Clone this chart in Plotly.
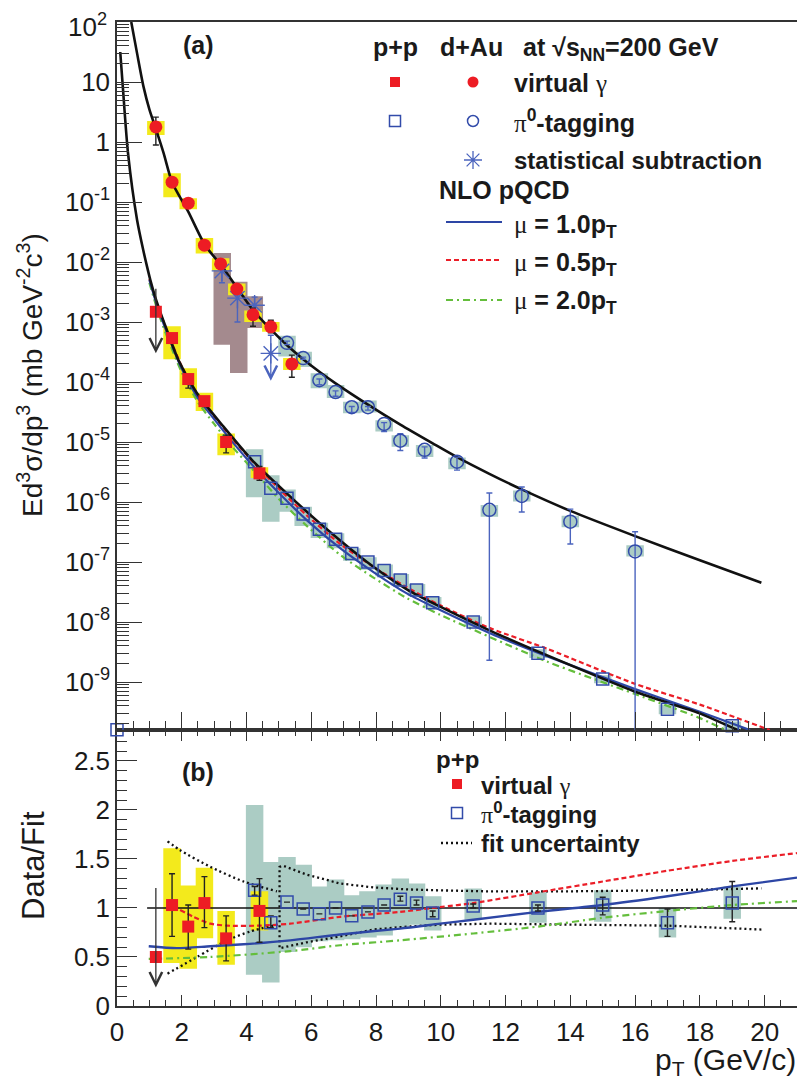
import numpy as np
import plotly.graph_objects as go

# ================= DATA =================
# ---- panel (a): invariant yields ----
# d+Au virtual photon (filled circles, yellow sys boxes)
dau_vg_x = [1.2, 1.7, 2.2, 2.7, 3.2, 3.7, 4.2, 4.75, 5.4]
dau_vg_y = [1.78, 0.214, 0.0955, 0.0191, 0.0093, 0.00355, 0.00132, 0.00083, 0.0002]
dau_vg_err_hi = [2.6, 0.24, 0.1, 0.02, 0.0098, 0.0037, 0.0017, 0.00107, 0.00028]
dau_vg_err_lo = [0.89, 0.19, 0.091, 0.018, 0.0088, 0.0034, 0.00085, 0.00066, 0.00012]
dau_vg_sys_hi = [2.24, 0.3, 0.115, 0.025, 0.0115, 0.0044, 0.00155, 0.001, 0.00025]
dau_vg_sys_lo = [1.31, 0.12, 0.076, 0.0138, 0.0072, 0.0028, 0.001, 0.00069, 0.000158]

# d+Au statistical subtraction (asterisks, brown sys boxes)
dau_ss_x = [3.24, 3.72, 4.25]
dau_ss_y = [0.0071, 0.0025, 0.0019]
dau_ss_err_hi = [0.0095, 0.0028, 0.0026]
dau_ss_err_lo = [0.0045, 0.001, 0.00123]
dau_ss_limit_x = [4.75]
dau_ss_limit_y = [0.0003]
dau_ss_limit_top = [0.0006]
dau_ss_limit_tip = [0.000105]
dau_ss_sys_x = [3.25, 3.76, 4.24]
dau_ss_sys_hi = [0.0141, 0.00468, 0.00269]
dau_ss_sys_lo = [0.000417, 0.000141, 0.000794]

# d+Au pi0-tagging (open circles, teal sys boxes)
dau_pi0_x = [5.25, 5.75, 6.25, 6.75, 7.25, 7.75, 8.25, 8.75, 9.5, 10.5, 11.5, 12.5, 14.0, 16.0]
dau_pi0_y = [4.5e-4, 2.5e-4, 1.07e-4, 6.8e-5, 3.8e-5, 3.8e-5, 2.0e-5, 1.05e-5, 7.4e-6, 4.7e-6,
             7.4e-7, 1.26e-6, 4.7e-7, 1.5e-7]
dau_pi0_err_hi = [4.8e-4, 2.6e-4, 1.12e-4, 7.1e-5, 3.9e-5, 3.9e-5, 2.1e-5, 1.38e-5, 8.3e-6, 5.6e-6,
                  1.41e-6, 1.78e-6, 7.6e-7, 3.2e-7]
dau_pi0_err_lo = [4.2e-4, 2.4e-4, 0.9e-4, 5.8e-5, 3.1e-5, 3.4e-5, 1.5e-5, 7.2e-6, 5.4e-6, 3.4e-6,
                  2.3e-9, 6.8e-7, 2.0e-7, 1e-12]
dau_pi0_sys_hi = [5.9e-4, 3.2e-4, 1.4e-4, 8.9e-5, 4.7e-5, 4.9e-5, 2.3e-5, 1.3e-5, 8.9e-6, 5.5e-6,
                  8.9e-7, 1.55e-6, 5.9e-7, 1.9e-7]
dau_pi0_sys_lo = [2.65e-4, 1.78e-4, 7.9e-5, 5.4e-5, 3.0e-5, 3.1e-5, 1.5e-5, 8.3e-6, 5.6e-6, 3.5e-6,
                  5.7e-7, 1.02e-6, 3.8e-7, 1.23e-7]

# p+p virtual photon (filled squares, yellow sys boxes)
pp_vg_x = [1.7, 2.2, 2.7, 3.37, 4.4]
pp_vg_y = [5.4e-4, 1.12e-4, 4.8e-5, 1.0e-5, 3.0e-6]
pp_vg_err_hi = [6.3e-4, 1.3e-4, 5.7e-5, 1.3e-5, 3.9e-6]
pp_vg_err_lo = [4.6e-4, 7.9e-5, 3.9e-5, 6.6e-6, 2.3e-6]
pp_vg_sys_hi = [8.5e-4, 1.7e-4, 6.6e-5, 1.38e-5, 3.8e-6]
pp_vg_sys_lo = [2.4e-4, 5.4e-5, 3.3e-5, 6.0e-6, 2.5e-6]
pp_vg_limit_x = [1.2]
pp_vg_limit_y = [1.48e-3]
pp_vg_limit_top = [3.8e-3]
pp_vg_limit_tip = [3.0e-4]

# p+p pi0-tagging (open squares, teal sys boxes)
pp_pi0_x = [4.25, 4.75, 5.25, 5.75, 6.25, 6.75, 7.25, 7.75, 8.25, 8.75, 9.25, 9.75, 11.0, 13.0, 15.0, 17.0, 19.0]
pp_pi0_y = [4.7e-6, 1.7e-6, 1.15e-6, 6.3e-7, 3.5e-7, 2.4e-7, 1.38e-7, 1.0e-7, 7.2e-8, 5.0e-8, 3.4e-8,
            2.1e-8, 1.0e-8, 3.0e-9, 1.12e-9, 3.5e-10, 1.86e-10]
pp_pi0_sys_hi = [7.6e-6, 2.8e-6, 1.62e-6, 8.3e-7, 4.5e-7, 3.0e-7, 1.7e-7, 1.2e-7, 9.1e-8, 6.3e-8, 4.3e-8,
                 2.6e-8, 1.23e-8, 3.5e-9, 1.3e-9, 4.2e-10, 2.2e-10]
pp_pi0_sys_lo = [1.2e-6, 4.7e-7, 6.9e-7, 4.0e-7, 2.5e-7, 1.7e-7, 1.05e-7, 7.4e-8, 5.8e-8, 4.0e-8, 2.7e-8,
                 1.7e-8, 8.3e-9, 2.5e-9, 9.5e-10, 2.9e-10, 1.6e-10]
pp_pi0_edge_x = [0.0]
pp_pi0_edge_y = [1.6e-10]

# fit curves
dau_fit_x = [0.44, 0.62, 0.82, 1.0, 1.18, 1.44, 1.7, 2.2, 2.72, 3.24, 3.71, 4.2, 4.72, 5.25, 5.75, 6.25,
             6.75, 7.75, 8.75, 9.75, 10.5, 11.5, 12.5, 14.0, 16.0, 18.0, 19.9]
dau_fit_y = [100, 30, 8.3, 3.5, 1.78, 0.65, 0.214, 0.069, 0.019, 0.0085, 0.0037, 0.00158, 7.8e-4, 4.1e-4,
             2.4e-4, 1.48e-4, 9.5e-5, 4.2e-5, 1.95e-5, 9.5e-6, 5.6e-6, 2.95e-6, 1.62e-6, 7.1e-7, 2.7e-7,
             1.07e-7, 4.5e-8]
pp_fit_x = [0.1, 0.18, 0.34, 0.62, 0.81, 0.93, 1.03, 1.18, 1.34, 1.49, 1.9, 2.47, 3.29, 4.17, 5.25, 6.48,
            7.72, 8.95, 9.98, 11.52, 13.27, 16.0, 18.0, 19.03, 19.3]
pp_fit_y = [31.6, 8.3, 0.65, 0.05, 0.0158, 0.0083, 0.005, 0.0026, 0.00145, 8.7e-4, 2.3e-4, 6.5e-5, 1.8e-5,
            5.0e-6, 1.38e-6, 3.5e-7, 1.0e-7, 3.5e-8, 1.8e-8, 7.2e-9, 2.8e-9, 6.9e-10, 3.0e-10, 1.7e-10,
            1.5e-10]

# NLO pQCD curves
nlo_mu10_x = [1.0, 1.25, 1.5, 2.0, 2.5, 3.0, 3.6, 4.3, 5.0, 5.86, 6.89, 7.92, 8.95, 9.98, 11.52, 13.27,
              16.0, 18.0, 19.55]
nlo_mu10_y = [5.0e-3, 1.78e-3, 7.6e-4, 1.66e-4, 5.4e-5, 2.4e-5, 9.5e-6, 3.5e-6, 1.41e-6, 5.0e-7, 1.7e-7,
              6.8e-8, 3.0e-8, 1.58e-8, 6.5e-9, 2.7e-9, 7.6e-10, 3.2e-10, 1.58e-10]
nlo_mu05_x = [1.0, 1.25, 1.5, 2.0, 2.5, 3.0, 3.6, 4.3, 5.0, 5.86, 6.89, 7.92, 8.95, 9.98, 11.52, 13.27,
              16.0, 18.0, 20.16]
nlo_mu05_y = [5.2e-3, 1.9e-3, 8.3e-4, 1.82e-4, 6.0e-5, 2.7e-5, 1.07e-5, 4.1e-6, 1.66e-6, 6.0e-7, 2.0e-7,
              8.3e-8, 3.8e-8, 1.9e-8, 7.9e-9, 3.6e-9, 9.3e-10, 4.2e-10, 1.58e-10]
nlo_mu20_x = [1.0, 1.25, 1.5, 2.0, 2.5, 3.0, 3.6, 4.3, 5.0, 5.86, 6.89, 7.92, 8.95, 9.98, 11.52, 13.27,
              16.0, 18.0, 18.8]
nlo_mu20_y = [4.5e-3, 1.58e-3, 6.6e-4, 1.45e-4, 4.6e-5, 2.0e-5, 7.9e-6, 3.0e-6, 1.12e-6, 4.0e-7, 1.32e-7,
              5.5e-8, 2.5e-8, 1.32e-8, 5.6e-9, 2.2e-9, 6.3e-10, 2.5e-10, 1.58e-10]

# ---- panel (b): Data/Fit ----
ratio_vg_x = [1.7, 2.2, 2.7, 3.37, 4.4]
ratio_vg_y = [1.03, 0.81, 1.05, 0.69, 0.97]
ratio_vg_err_hi = [1.35, 1.03, 1.32, 0.92, 1.3]
ratio_vg_err_lo = [0.71, 0.58, 0.8, 0.46, 0.65]
ratio_vg_sys_hi = [1.61, 1.23, 1.41, 0.97, 1.17]
ratio_vg_sys_lo = [0.44, 0.38, 0.69, 0.42, 0.77]
ratio_vg_limit_x = [1.2]
ratio_vg_limit_y = [0.5]
ratio_vg_limit_top = [1.22]
ratio_vg_limit_tip = [0.19]

ratio_pi0_x = [4.25, 4.75, 5.25, 5.75, 6.25, 6.75, 7.25, 7.75, 8.25, 8.75, 9.25, 9.75, 11.0, 13.0, 15.0, 17.0, 19.0]
ratio_pi0_y = [1.18, 0.85, 1.06, 0.99, 0.94, 1.0, 0.92, 0.96, 1.03, 1.09, 1.05, 0.95, 1.02, 1.0, 1.03, 0.85, 1.05]
ratio_pi0_err_hi = [1.22, 0.92, None, None, None, None, None, None, None, 1.12, 1.08, 0.97, 1.04, 1.03, 1.11, 0.99, 1.27]
ratio_pi0_err_lo = [1.13, 0.80, None, None, None, None, None, None, None, 1.07, 1.03, 0.91, 1.0, 0.97, 0.93, 0.71, 0.86]
ratio_pi0_sys_hi = [2.05, 1.47, 1.52, 1.44, 1.22, 1.29, 1.13, 1.17, 1.24, 1.30, 1.25, 1.12, 1.2, 1.16, 1.18, 1.0, 1.22]
ratio_pi0_sys_lo = [0.32, 0.24, 0.55, 0.6, 0.66, 0.67, 0.68, 0.7, 0.72, 0.80, 0.83, 0.77, 0.88, 0.85, 0.86, 0.70, 0.89]

ratio_mu10_x = [0.98, 1.85, 2.88, 3.91, 5.35, 6.89, 8.74, 9.98, 11.0, 13.0, 15.0, 17.0, 19.0, 21.0]
ratio_mu10_y = [0.61, 0.59, 0.61, 0.63, 0.67, 0.73, 0.79, 0.84, 0.88, 0.96, 1.03, 1.12, 1.22, 1.31]
ratio_mu05_x = [1.95, 2.36, 2.88, 3.4, 4.42, 5.35, 6.89, 8.74, 9.98, 11.0, 13.0, 15.0, 17.0, 19.0, 21.0]
ratio_mu05_y = [0.98, 0.91, 0.84, 0.82, 0.82, 0.84, 0.91, 0.96, 1.01, 1.05, 1.16, 1.27, 1.38, 1.48, 1.56]
ratio_mu20_x = [0.98, 2.88, 5.35, 6.89, 8.74, 11.0, 13.0, 15.0, 17.0, 19.0, 21.0]
ratio_mu20_y = [0.48, 0.5, 0.56, 0.62, 0.67, 0.74, 0.81, 0.9, 0.97, 1.03, 1.07]

fitunc_vg_up_x = [1.56, 1.95, 2.88, 3.91, 4.94]
fitunc_vg_up_y = [1.68, 1.59, 1.42, 1.27, 1.17]
fitunc_vg_lo_x = [1.56, 2.47, 3.4, 4.11, 4.94]
fitunc_vg_lo_y = [0.33, 0.5, 0.67, 0.76, 0.83]
fitunc_pi0_up_x = [5.02, 5.14, 5.86, 6.89, 7.92, 8.95, 9.98, 11.4, 14.0, 17.0, 19.9]
fitunc_pi0_up_y = [1.42, 1.43, 1.34, 1.25, 1.21, 1.19, 1.18, 1.17, 1.17, 1.18, 1.2]
fitunc_pi0_lo_x = [5.02, 5.86, 6.89, 7.92, 8.95, 9.98, 11.52, 14.0, 17.0, 19.9]
fitunc_pi0_lo_y = [0.59, 0.65, 0.71, 0.78, 0.81, 0.83, 0.84, 0.83, 0.82, 0.78]

unity_x = [0.93, 21.0]
unity_y = [1.0, 1.0]

x_ticks = [0, 2, 4, 6, 8, 10, 12, 14, 16, 18, 20]
y_top_exps = list(range(-9, 3))
# the top label (10^2) is drawn as a separate text so it is not cut at the page edge
y_top_ticktext = ["10<sup>%d</sup>" % e if e not in (0, 1, 2) else {0: "1", 1: "10", 2: ""}[e] for e in y_top_exps]
y_top_label_top = "10<sup>2</sup>"
y_bot_ticks = [0, 0.5, 1, 1.5, 2, 2.5]
y_bot_ticktext = ["0", "0.5", "1", "1.5", "2", "2.5"]

# ================= STYLE =================
RED = "rgb(237,28,36)"
BLUE = "rgb(50,75,170)"
BLUE2 = "rgb(75,100,190)"
YELLOW = "rgb(243,234,28)"
TEAL = "rgb(171,204,196)"
BROWN = "rgb(164,138,142)"
DARK = "#222222"
NLO_BLUE = "rgb(45,70,165)"
NLO_RED = "rgb(235,30,40)"
NLO_GREEN = "rgb(100,190,60)"
FONT = "Liberation Sans, Arial, Helvetica, sans-serif"
SERIF = "Liberation Serif,DejaVu Serif,serif"

# page geometry (the html body adds an 8px offset, so the figure is 8px smaller)
BODY = 8
PAGE_W, PAGE_H = 805, 1081
X0, X1, Y0, Y1 = 117, 797, 22, 1006         # plot area in page pixels
W, H = PAGE_W - BODY, PAGE_H - BODY
ML, MT = X0 - BODY, Y0 - BODY
MR, MB = W - (X1 - BODY), H - (Y1 - BODY)
PW, PH = X1 - X0, Y1 - Y0
SPLIT = (Y1 - 730) / PH   # bottom-panel fraction


def px(xp):
    return (xp - X0) / PW


def py(yp):
    return (Y1 - yp) / PH


def box_path(xs, lo, hi, hw):
    bx, by = [], []
    for x, l, h in zip(xs, lo, hi):
        bx += [x - hw, x + hw, x + hw, x - hw, x - hw, None]
        by += [l, l, h, h, l, None]
    return bx, by


def errs(y, hi, lo):
    plus = [None if h is None else h - v for v, h in zip(y, hi)]
    minus = [None if l is None else v - l for v, l in zip(y, lo)]
    return plus, minus


fig = go.Figure()


def add_boxes(xs, lo, hi, color, xa, ya, hw=0.27):
    bx, by = box_path(xs, lo, hi, hw)
    fig.add_trace(go.Scatter(x=bx, y=by, mode="lines", fill="toself", fillcolor=color,
                             line=dict(width=0, color=color), hoverinfo="skip",
                             xaxis=xa, yaxis=ya, showlegend=False))


def add_line(x, y, color, width, dash, xa, ya, shape="spline"):
    fig.add_trace(go.Scatter(x=x, y=y, mode="lines",
                             line=dict(color=color, width=width, dash=dash, shape=shape, smoothing=0.7),
                             hoverinfo="skip", xaxis=xa, yaxis=ya, showlegend=False))


def add_points(x, y, symbol, color, size, xa, ya, hi=None, lo=None, ecolor=DARK, lw=1.5, clip=True):
    ey = None
    if hi is not None:
        p, m = errs(y, hi, lo)
        ey = dict(type="data", array=p, arrayminus=m, color=ecolor, thickness=1.4, width=3)
    mk = dict(symbol=symbol, color=color, size=size, line=dict(color=color, width=lw))
    fig.add_trace(go.Scatter(x=x, y=y, mode="markers", marker=mk, error_y=ey, hoverinfo="skip",
                             xaxis=xa, yaxis=ya, showlegend=False, cliponaxis=clip))


# ---------- panel (a) ----------
add_boxes(dau_pi0_x, dau_pi0_sys_lo, dau_pi0_sys_hi, TEAL, "x2", "y2")
add_boxes(pp_pi0_x, pp_pi0_sys_lo, pp_pi0_sys_hi, TEAL, "x2", "y2")
add_boxes(dau_ss_sys_x, dau_ss_sys_lo, dau_ss_sys_hi, BROWN, "x2", "y2")
add_boxes(pp_vg_x, pp_vg_sys_lo, pp_vg_sys_hi, YELLOW, "x2", "y2")
add_boxes(dau_vg_x, dau_vg_sys_lo, dau_vg_sys_hi, YELLOW, "x2", "y2")

add_line(nlo_mu20_x, nlo_mu20_y, NLO_GREEN, 2.2, "7px,4px,2px,4px", "x2", "y2")
add_line(nlo_mu05_x, nlo_mu05_y, NLO_RED, 2.2, "5px,3px", "x2", "y2")
add_line(nlo_mu10_x, nlo_mu10_y, NLO_BLUE, 2.2, "solid", "x2", "y2")
add_line(pp_fit_x, pp_fit_y, "#111111", 2.6, "solid", "x2", "y2")
add_line(dau_fit_x, dau_fit_y, "#111111", 2.6, "solid", "x2", "y2")

add_points(dau_pi0_x, dau_pi0_y, "circle-open", BLUE, 13, "x2", "y2", dau_pi0_err_hi, dau_pi0_err_lo, ecolor=BLUE2)
add_points(pp_pi0_x, pp_pi0_y, "square-open", BLUE, 12, "x2", "y2", clip=False)
add_points(pp_pi0_edge_x, pp_pi0_edge_y, "square-open", BLUE, 12, "x2", "y2", clip=False)
add_points(dau_ss_x, dau_ss_y, "asterisk-open", BLUE2, 17, "x2", "y2", dau_ss_err_hi, dau_ss_err_lo,
           ecolor=BLUE2, lw=1.4)
add_points(dau_ss_limit_x, dau_ss_limit_y, "asterisk-open", BLUE2, 17, "x2", "y2",
           dau_ss_limit_top, dau_ss_limit_y, ecolor=BLUE2, lw=1.4)
add_points(pp_vg_x, pp_vg_y, "square", RED, 12, "x2", "y2", pp_vg_err_hi, pp_vg_err_lo, lw=0)
add_points(pp_vg_limit_x, pp_vg_limit_y, "square", RED, 12, "x2", "y2", lw=0)
add_points(dau_vg_x, dau_vg_y, "circle", RED, 13, "x2", "y2", dau_vg_err_hi, dau_vg_err_lo, lw=0)

# ---------- panel (b) ----------
add_boxes(ratio_pi0_x, ratio_pi0_sys_lo, ratio_pi0_sys_hi, TEAL, "x", "y")
add_boxes(ratio_vg_x, ratio_vg_sys_lo, ratio_vg_sys_hi, YELLOW, "x", "y")
add_line(unity_x, unity_y, "#111111", 1.3, "solid", "x", "y", shape="linear")
DOT = "2px,3px"
add_line(fitunc_vg_up_x, fitunc_vg_up_y, "#111111", 2.3, DOT, "x", "y")
add_line(fitunc_vg_lo_x, fitunc_vg_lo_y, "#111111", 2.3, DOT, "x", "y")
add_line(fitunc_pi0_lo_x[::-1] + fitunc_pi0_up_x, fitunc_pi0_lo_y[::-1] + fitunc_pi0_up_y,
         "#111111", 2.3, DOT, "x", "y", shape="linear")
add_line(ratio_mu20_x, ratio_mu20_y, NLO_GREEN, 2.2, "7px,4px,2px,4px", "x", "y")
add_line(ratio_mu05_x, ratio_mu05_y, NLO_RED, 2.2, "5px,3px", "x", "y")
add_line(ratio_mu10_x, ratio_mu10_y, NLO_BLUE, 2.4, "solid", "x", "y")
add_points(ratio_pi0_x, ratio_pi0_y, "square-open", BLUE, 12, "x", "y", ratio_pi0_err_hi, ratio_pi0_err_lo)
add_points(ratio_vg_x, ratio_vg_y, "square", RED, 12, "x", "y", ratio_vg_err_hi, ratio_vg_err_lo, lw=0)
add_points(ratio_vg_limit_x, ratio_vg_limit_y, "square", RED, 12, "x", "y", lw=0)

# ---------- legend (overlay axes in plot-area coordinates) ----------
def leg_marker(xp, yp, symbol, color, size, lw=1.5):
    fig.add_trace(go.Scatter(x=[px(xp)], y=[py(yp)], mode="markers",
                             marker=dict(symbol=symbol, color=color, size=size, line=dict(color=color, width=lw)),
                             hoverinfo="skip", xaxis="x3", yaxis="y3", showlegend=False, cliponaxis=False))


def leg_line(x0, x1, yp, color, width, dash):
    fig.add_trace(go.Scatter(x=[px(x0), px(x1)], y=[py(yp), py(yp)], mode="lines",
                             line=dict(color=color, width=width, dash=dash),
                             hoverinfo="skip", xaxis="x3", yaxis="y3", showlegend=False, cliponaxis=False))


leg_marker(395, 82, "square", RED, 10, 0)
leg_marker(473, 82, "circle", RED, 11, 0)
leg_marker(395, 121, "square-open", BLUE, 11)
leg_marker(473, 121, "circle-open", BLUE, 11)
leg_marker(473, 160, "asterisk-open", BLUE2, 15, 1.3)
leg_line(446, 502, 222, NLO_BLUE, 2.2, "solid")
leg_line(446, 502, 260, NLO_RED, 2.2, "5px,3px")
leg_line(446, 502, 300, NLO_GREEN, 2.2, "7px,4px,2px,4px")
leg_marker(457, 784, "square", RED, 10, 0)
leg_marker(457, 813, "square-open", BLUE, 11)
leg_line(441, 472, 843, "#111111", 2.3, DOT)

# ---------- text ----------
def sym(ch):
    return '<span style="font-family:%s;font-weight:normal">%s</span>' % (SERIF, ch)


ann = []


def text(t, xp, yp, xanchor="left", size=25, angle=0, yanchor="middle", color="#1a1a1a"):
    ann.append(dict(text=t, x=px(xp), y=py(yp), xref="paper", yref="paper", showarrow=False,
                    xanchor=xanchor, yanchor=yanchor, textangle=angle,
                    font=dict(family=FONT, size=size, color=color)))


text(y_top_label_top, 109, 25, "right", 26)
text("<b>(a)</b>", 198, 45, "center", 25)
text("<b>p+p</b>", 395, 47, "center", 25)
text("<b>d+Au</b>", 471, 47, "center", 25)
text("<b>at √s<sub>NN</sub>=200 GeV</b>", 521, 49, "left", 25)
text("<b>virtual</b> " + sym("γ"), 512, 83, "left", 25)
text(sym("π") + "<b><sup>0</sup>-tagging</b>", 512, 121, "left", 25)
text("<b>statistical subtraction</b>", 512, 160, "left", 24)
text("<b>NLO pQCD</b>", 437, 190, "left", 25)
text(sym("μ") + "<b> = 1.0p<sub>T</sub></b>", 512, 226, "left", 25)
text(sym("μ") + "<b> = 0.5p<sub>T</sub></b>", 512, 264, "left", 25)
text(sym("μ") + "<b> = 2.0p<sub>T</sub></b>", 512, 302, "left", 25)
text("<b>(b)</b>", 198, 772, "center", 25)
text("<b>p+p</b>", 434, 759, "left", 24)
text("<b>virtual</b> " + sym("γ"), 479, 785, "left", 24)
text(sym("π") + "<b><sup>0</sup>-tagging</b>", 479, 813, "left", 24)
text("<b>fit uncertainty</b>", 479, 843, "left", 24)
text("Ed<sup>3</sup>σ/dp<sup>3</sup> (mb GeV<sup>-2</sup>c<sup>3</sup>)", 30, 375, "center", 28, -90)
text("Data/Fit", 33, 866, "center", 31, -90)
text("p<sub>T</sub> (GeV/c)", 798, 1061, "right", 30)

# upper-limit arrows
def arrow(x, tip, top, xref, yref, color, log):
    yt = np.log10(tip) if log else tip
    ya = np.log10(top) if log else top
    ann.append(dict(x=x, y=yt, ax=x, ay=ya, xref=xref, yref=yref, axref=xref, ayref=yref,
                    text="", showarrow=True, arrowhead=5, arrowsize=1.9, arrowwidth=1.3,
                    arrowcolor=color, standoff=0, startstandoff=0))


arrow(pp_vg_limit_x[0], pp_vg_limit_tip[0], pp_vg_limit_top[0], "x2", "y2", "#333333", True)
arrow(dau_ss_limit_x[0], dau_ss_limit_tip[0], dau_ss_limit_y[0], "x2", "y2", BLUE2, True)
arrow(ratio_vg_limit_x[0], ratio_vg_limit_tip[0], ratio_vg_limit_top[0], "x", "y", "#333333", False)

# ---------- axes ----------
minor_log = [m * 10.0 ** k for k in range(-10, 2) for m in range(2, 10)]
minor_log = [v for v in minor_log if 10 ** -9.8 <= v <= 100]
AX = dict(showline=True, linecolor="#333333", linewidth=1.5, showgrid=False, zeroline=False,
          tickcolor="#333333", tickwidth=1.3, ticks="inside", automargin=False,
          ticklabeloverflow="allow",
          tickfont=dict(family=FONT, size=26, color="#1a1a1a"))

fig.update_layout(
    width=W, height=H, margin=dict(l=ML, r=MR, t=MT, b=MB, autoexpand=False),
    paper_bgcolor="white", plot_bgcolor="rgba(0,0,0,0)", showlegend=False,
    font=dict(family=FONT),
    xaxis=dict(AX, domain=[0, 1], range=[0, 21], anchor="y", tickmode="array", tickvals=x_ticks,
               ticklen=11, mirror="ticks", ticklabelstandoff=2,
               minor=dict(dtick=0.5, tick0=0, ticklen=6, ticks="inside", tickcolor="#333333", tickwidth=1.2)),
    yaxis=dict(AX, domain=[0, SPLIT], range=[0, 2.816], anchor="x", tickmode="array",
               tickvals=y_bot_ticks, ticktext=y_bot_ticktext, ticklen=20, mirror=True,
               minor=dict(dtick=0.1, tick0=0, ticklen=10, ticks="inside", tickcolor="#333333", tickwidth=1.2)),
    xaxis2=dict(AX, domain=[0, 1], range=[0, 21], anchor="y2", tickmode="array", tickvals=x_ticks,
                showticklabels=False, ticklen=18, mirror=True,
                minor=dict(dtick=0.5, tick0=0, ticklen=9, ticks="inside", tickcolor="#333333", tickwidth=1.2)),
    yaxis2=dict(AX, domain=[SPLIT, 1], type="log", range=[-9.8, 2], anchor="x2", tickmode="array",
                tickvals=[10.0 ** e for e in y_top_exps], ticktext=y_top_ticktext, ticklen=25, mirror=True,
                minor=dict(tickmode="array", tickvals=minor_log, ticklen=12, ticks="inside",
                           tickcolor="#333333", tickwidth=1.2)),
    xaxis3=dict(domain=[0, 1], range=[0, 1], anchor="y3", visible=False, fixedrange=True),
    yaxis3=dict(domain=[0, 1], range=[0, 1], anchor="x3", visible=False, fixedrange=True),
    annotations=ann,
)

fig.write_html("out.html")
